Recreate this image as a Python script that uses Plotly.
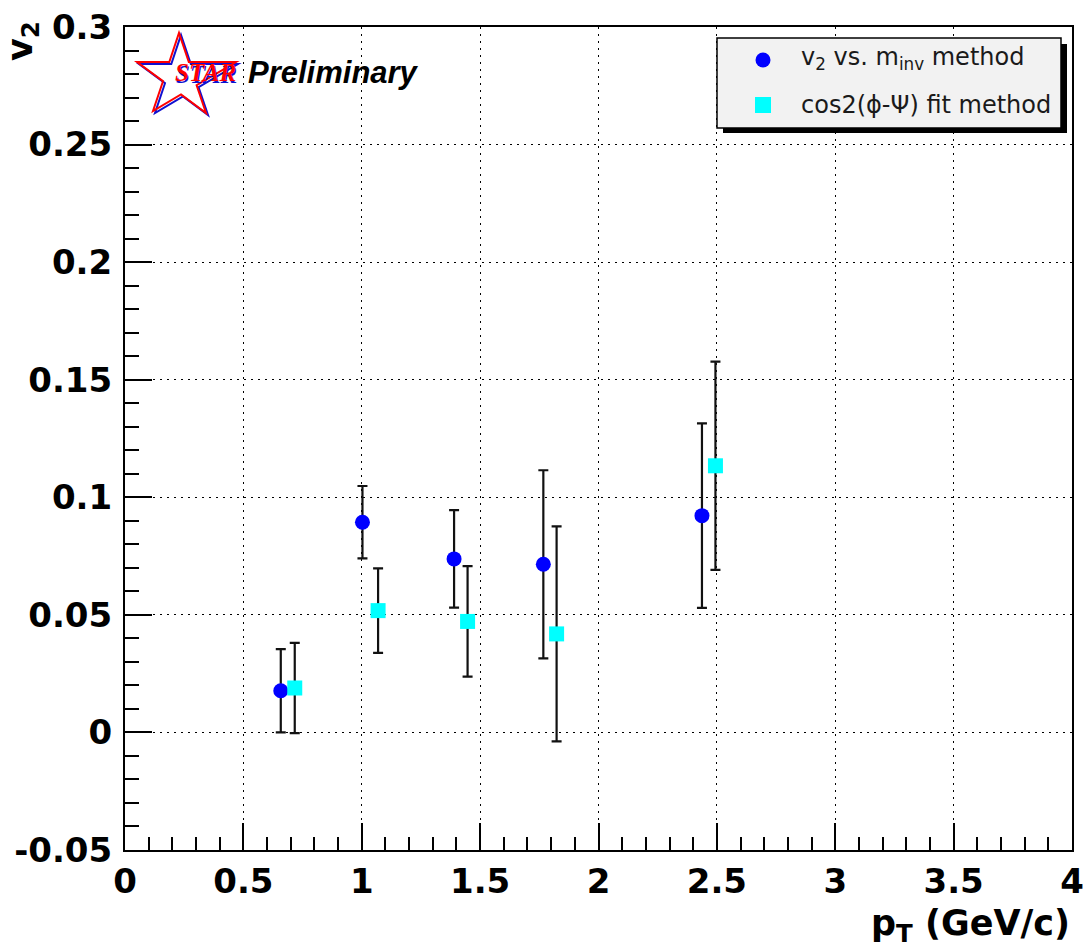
import plotly.graph_objects as go

# ---- data ----
minv_pt = [0.658, 1.003, 1.390, 1.767, 2.437]
minv_v2 = [0.0177, 0.0894, 0.0738, 0.0715, 0.0922]
minv_err = [0.0177, 0.0154, 0.0207, 0.0400, 0.0392]

fit_pt = [0.717, 1.069, 1.447, 1.823, 2.494]
fit_v2 = [0.0189, 0.0518, 0.0472, 0.0419, 0.1134]
fit_err = [0.0192, 0.0180, 0.0235, 0.0457, 0.0443]

x_ticks = [0, 0.5, 1, 1.5, 2, 2.5, 3, 3.5, 4]
x_tick_text = ["0", "0.5", "1", "1.5", "2", "2.5", "3", "3.5", "4"]
y_ticks = [-0.05, 0, 0.05, 0.1, 0.15, 0.2, 0.25, 0.3]
y_tick_text = ["-0.05", "0", "0.05", "0.1", "0.15", "0.2", "0.25", "0.3"]

legend_labels = ["v<sub>2</sub> vs. m<sub>inv</sub> method", "cos2(\u03d5-\u03a8) fit method"]

# ---- geometry helpers (pixel -> paper) ----
W, H = 1084, 948
ML, MR, MT, MB = 125, 12, 27, 98
PW = W - ML - MR
PH = H - MT - MB


def px(x):
    return (x - ML) / PW


def py(y):
    return (H - MB - y) / PH


fig = go.Figure()

fig.add_trace(go.Scatter(
    x=minv_pt, y=minv_v2, mode="markers", name=legend_labels[0],
    marker=dict(symbol="circle", size=15, color="#0000ff"),
    error_y=dict(type="data", array=minv_err, color="#111111", thickness=2.2, width=5),
    showlegend=False,
))
fig.add_trace(go.Scatter(
    x=fit_pt, y=fit_v2, mode="markers", name=legend_labels[1],
    marker=dict(symbol="square", size=15, color="#00ffff"),
    error_y=dict(type="data", array=fit_err, color="#111111", thickness=2.2, width=5),
    showlegend=False,
))

tickfont = dict(family="DejaVu Sans", size=34, color="black", weight="bold")

fig.update_xaxes(
    range=[0, 4], tickvals=x_ticks, ticktext=x_tick_text, automargin=False,
    ticks="inside", ticklen=27, tickwidth=2, tickcolor="black",
    minor=dict(ticks="inside", dtick=0.1, ticklen=13, tickwidth=2, tickcolor="black", showgrid=False),
    showline=True, linecolor="black", linewidth=2, mirror=True,
    showgrid=True, gridcolor="black", gridwidth=1, griddash="2px,5px",
    zeroline=False, tickfont=tickfont, ticklabelstandoff=0,
)
fig.update_yaxes(
    range=[-0.05, 0.3], tickvals=y_ticks, ticktext=y_tick_text, automargin=False,
    ticks="inside", ticklen=27, tickwidth=2, tickcolor="black",
    minor=dict(ticks="inside", dtick=0.01, ticklen=14, tickwidth=2, tickcolor="black", showgrid=False),
    showline=True, linecolor="black", linewidth=2, mirror=True,
    showgrid=True, gridcolor="black", gridwidth=1, griddash="2px,5px",
    zeroline=False, tickfont=tickfont, ticklabelstandoff=4,
)

shapes = []
annotations = []

# ---- legend box with shadow ----
shapes.append(dict(type="rect", xref="paper", yref="paper",
                   x0=px(723), x1=px(1067), y0=py(133), y1=py(44),
                   fillcolor="black", line=dict(width=0), layer="above"))
shapes.append(dict(type="rect", xref="paper", yref="paper",
                   x0=px(717), x1=px(1061), y0=py(128), y1=py(38),
                   fillcolor="#f2f2f2", line=dict(color="black", width=1.5), layer="above"))
shapes.append(dict(type="circle", xref="paper", yref="paper",
                   x0=px(755.5), x1=px(770.5), y0=py(67.5), y1=py(52.5),
                   fillcolor="#0000ff", line=dict(width=0), layer="above"))
shapes.append(dict(type="rect", xref="paper", yref="paper",
                   x0=px(755), x1=px(771), y0=py(113), y1=py(97),
                   fillcolor="#00ffff", line=dict(width=0), layer="above"))
legfont = dict(family="DejaVu Sans", size=24, color="#1a1a1a")
annotations.append(dict(xref="paper", yref="paper", x=px(799), y=py(59),
                        xanchor="left", yanchor="middle", showarrow=False,
                        text=legend_labels[0], font=legfont))
annotations.append(dict(xref="paper", yref="paper", x=px(799), y=py(105),
                        xanchor="left", yanchor="middle", showarrow=False,
                        text=legend_labels[1], font=legfont))

# ---- STAR logo (star outline) ----
star_pts = [(137, 62), (169.3, 62), (179, 33), (188.8, 62), (236, 62), (196.6, 85.2),
            (206, 113), (181, 94.5), (153, 111), (163, 81.2)]


def star_path(dx, dy):
    s = "M " + " L ".join(f"{px(x + dx):.5f},{py(y + dy):.5f}" for x, y in star_pts)
    return s + " Z"


shapes.append(dict(type="path", xref="paper", yref="paper", path=star_path(2, 2),
                   line=dict(color="#1010d0", width=2), layer="above"))
shapes.append(dict(type="path", xref="paper", yref="paper", path=star_path(0, 0),
                   line=dict(color="#ff0000", width=2), layer="above"))

starfont_b = dict(family="Liberation Serif", size=25, color="#1010d0", weight="bold", style="italic")
starfont_r = dict(family="Liberation Serif", size=25, color="#ff0000", weight="bold", style="italic")
annotations.append(dict(xref="paper", yref="paper", x=px(206.5), y=py(74.5),
                        xanchor="center", yanchor="middle", showarrow=False,
                        text="STAR", font=starfont_b))
annotations.append(dict(xref="paper", yref="paper", x=px(205), y=py(73),
                        xanchor="center", yanchor="middle", showarrow=False,
                        text="STAR", font=starfont_r))
annotations.append(dict(xref="paper", yref="paper", x=px(246), y=py(73),
                        xanchor="left", yanchor="middle", showarrow=False,
                        text="Preliminary",
                        font=dict(family="Liberation Sans", size=31, color="black",
                                  weight="bold", style="italic")))

# ---- axis titles ----
titlefont = dict(family="DejaVu Sans", size=35, color="black", weight="bold")
annotations.append(dict(xref="paper", yref="paper", x=px(1072), y=py(950),
                        xanchor="right", yanchor="bottom", showarrow=False,
                        text="p<sub>T</sub> (GeV/c)", font=titlefont))
annotations.append(dict(xref="paper", yref="paper", x=px(23), y=py(19),
                        xanchor="center", yanchor="top", showarrow=False, textangle=-90,
                        text="v<sub>2</sub>", font=titlefont))

fig.update_layout(
    width=W, height=H,
    margin=dict(l=ML, r=MR, t=MT, b=MB, autoexpand=False),
    paper_bgcolor="white", plot_bgcolor="white",
    shapes=shapes, annotations=annotations,
    showlegend=False,
)

fig.write_html("out.html")
